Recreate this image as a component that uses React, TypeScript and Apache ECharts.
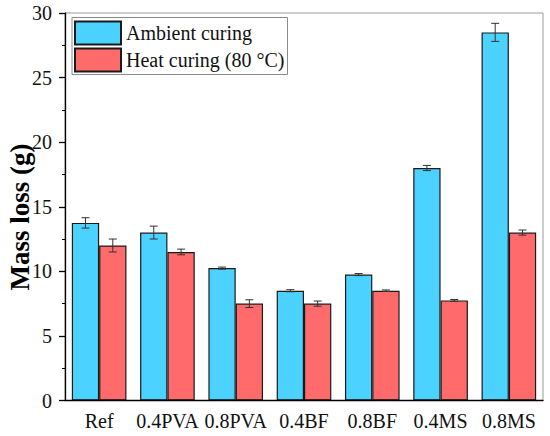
import React, { useEffect, useRef } from "react";
import * as echarts from "echarts";

const categories = ["Ref", "0.4PVA", "0.8PVA", "0.4BF", "0.8BF", "0.4MS", "0.8MS"];
const ambient = [13.75, 13.0, 10.25, 8.5, 9.75, 18.0, 28.5];
const ambientErr = [0.4, 0.5, 0.08, 0.08, 0.08, 0.2, 0.7];
const heat = [12.0, 11.5, 7.5, 7.5, 8.5, 7.75, 13.0];
const heatErr = [0.5, 0.22, 0.3, 0.2, 0.06, 0.07, 0.2];
const seriesNames = ["Ambient curing", "Heat curing (80 °C)"];
const yTicks = [0, 5, 10, 15, 20, 25, 30];

const FONT = "Liberation Serif";

function errData(vals: number[], errs: number[]) {
  return vals.map((v, i) => [i, v - errs[i], v + errs[i]]);
}

function makeErrRender(offsetFrac: number) {
  return (params: any, api: any) => {
    const idx = api.value(0);
    const lo = api.coord([idx, api.value(1)]);
    const hi = api.coord([idx, api.value(2)]);
    const band = api.size([1, 0])[0];
    const x = lo[0] + band * offsetFrac;
    const cap = 4;
    const style = { stroke: "#333", lineWidth: 1 };
    return {
      type: "group",
      children: [
        { type: "line", shape: { x1: x, y1: lo[1], x2: x, y2: hi[1] }, style },
        { type: "line", shape: { x1: x - cap, y1: lo[1], x2: x + cap, y2: lo[1] }, style },
        { type: "line", shape: { x1: x - cap, y1: hi[1], x2: x + cap, y2: hi[1] }, style },
      ],
    };
  };
}

export default function App() {
  const ref = useRef<HTMLDivElement>(null);
  useEffect(() => {
    if (!ref.current) return;
    const chart = echarts.init(ref.current, undefined, { renderer: "svg" });
    chart.setOption({
      animation: false,
      backgroundColor: "#ffffff",
      textStyle: { fontFamily: FONT },
      grid: {
        left: 65,
        right: 7,
        top: 13,
        bottom: 35.5,
        show: true,
        borderColor: "#9a9a9a",
        borderWidth: 1,
        outerBoundsMode: "none",
        containLabel: false,
      },
      legend: {
        data: seriesNames,
        orient: "vertical",
        left: 72,
        top: 17.5,
        itemWidth: 46,
        itemHeight: 23,
        itemGap: 2,
        padding: [3, 3, 2, 2],
        borderColor: "#8a8a8a",
        borderWidth: 1,
        backgroundColor: "#ffffff",
        icon: "rect",
        textStyle: { fontFamily: FONT, fontSize: 20, color: "#111" },
      },
      xAxis: {
        type: "category",
        data: categories,
        axisLine: { lineStyle: { color: "#000", width: 1.3 } },
        axisTick: { alignWithLabel: true, length: 6, lineStyle: { color: "#000", width: 1.3 } },
        axisLabel: { fontFamily: FONT, fontSize: 20, color: "#111", margin: 10, interval: 0 },
        z: 10,
      },
      yAxis: {
        type: "value",
        min: yTicks[0],
        max: yTicks[yTicks.length - 1],
        interval: 5,
        axisLine: { show: true, lineStyle: { color: "#000", width: 1.3 } },
        axisTick: { show: true, length: 6, lineStyle: { color: "#000", width: 1.3 } },
        minorTick: { show: true, splitNumber: 2, length: 3, lineStyle: { color: "#000", width: 1 } },
        splitLine: { show: false },
        axisLabel: { fontFamily: FONT, fontSize: 20, color: "#111", margin: 13 },
        z: 10,
      },
      graphic: [
        {
          type: "text",
          x: 20,
          y: 217,
          rotation: Math.PI / 2,
          style: {
            text: "Mass loss (g)",
            font: `bold 27px ${FONT}`,
            fill: "#000",
            align: "center",
            verticalAlign: "middle",
          },
        },
      ],
      series: [
        {
          name: seriesNames[0],
          type: "bar",
          data: ambient,
          barWidth: "40%",
          barGap: "0%",
          barCategoryGap: "20%",
          itemStyle: { color: "#4cd2ff", borderColor: "#1a1a1a", borderWidth: 1.2 },
        },
        {
          name: seriesNames[1],
          type: "bar",
          data: heat,
          barWidth: "40%",
          barGap: "0%",
          itemStyle: { color: "#ff6b6b", borderColor: "#1a1a1a", borderWidth: 1.2 },
        },
        {
          name: "ambientErr",
          type: "custom",
          data: errData(ambient, ambientErr),
          encode: { x: 0, y: [1, 2] },
          renderItem: makeErrRender(-0.2),
          z: 5,
        },
        {
          name: "heatErr",
          type: "custom",
          data: errData(heat, heatErr),
          encode: { x: 0, y: [1, 2] },
          renderItem: makeErrRender(0.2),
          z: 5,
        },
      ],
    });
    return () => chart.dispose();
  }, []);
  return <div ref={ref} style={{ width: 550, height: 436, position: "absolute", left: 0, top: 0 }} />;
}
